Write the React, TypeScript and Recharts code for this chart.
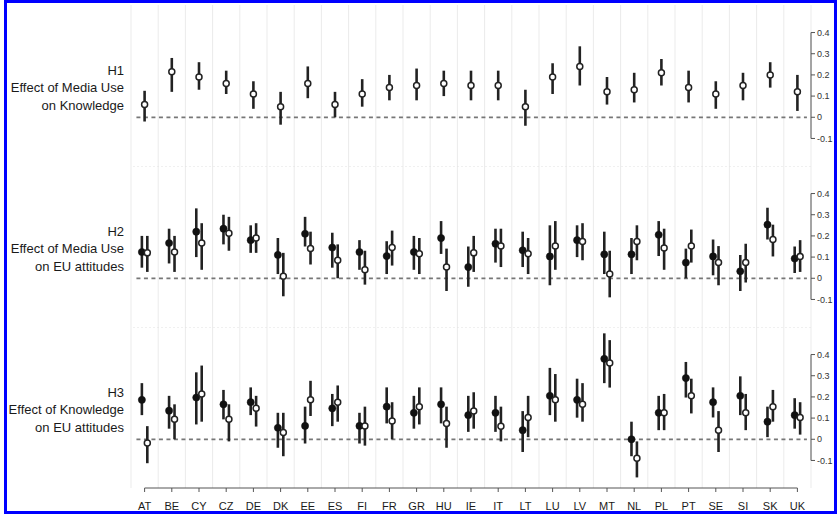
import React from "react";
import { ScatterChart, Scatter, XAxis, YAxis, ErrorBar, ReferenceLine } from "recharts";

const countries = ["AT","BE","CY","CZ","DE","DK","EE","ES","FI","FR","GR","HU","IE","IT","LT","LU","LV","MT","NL","PL","PT","SE","SI","SK","UK"];
const yTicks = [-0.1, 0, 0.1, 0.2, 0.3, 0.4];

// H1: effect of media use on knowledge (hollow markers)
const h1Est = [0.06,0.215,0.19,0.16,0.11,0.05,0.16,0.06,0.11,0.14,0.15,0.16,0.15,0.15,0.05,0.19,0.24,0.12,0.13,0.21,0.14,0.11,0.15,0.2,0.12];
const h1Lo  = [-0.02,0.12,0.13,0.11,0.04,-0.035,0.09,0.0,0.05,0.08,0.08,0.1,0.08,0.08,-0.04,0.11,0.15,0.06,0.07,0.15,0.07,0.04,0.08,0.14,0.03];
const h1Hi  = [0.125,0.28,0.26,0.22,0.17,0.12,0.24,0.12,0.18,0.2,0.23,0.22,0.22,0.22,0.13,0.255,0.335,0.19,0.21,0.275,0.22,0.17,0.21,0.26,0.2];

// H2: effect of media use on EU attitudes
const h2FilledEst = [0.124,0.166,0.22,0.234,0.18,0.11,0.21,0.145,0.124,0.105,0.124,0.19,0.053,0.163,0.132,0.103,0.18,0.113,0.113,0.205,0.074,0.103,0.033,0.253,0.093];
const h2FilledLo  = [0.05,0.07,0.1,0.16,0.12,0.02,0.15,0.05,0.04,0.02,0.04,0.115,-0.04,0.074,0.053,-0.033,0.1,0.02,0.02,0.105,0.0,0.014,-0.06,0.183,0.025];
const h2FilledHi  = [0.2,0.234,0.33,0.3,0.25,0.19,0.29,0.215,0.18,0.175,0.2,0.27,0.15,0.234,0.22,0.25,0.25,0.22,0.19,0.27,0.14,0.183,0.11,0.333,0.15];
const h2HollowEst = [0.12,0.124,0.166,0.213,0.19,0.01,0.14,0.085,0.04,0.145,0.116,0.053,0.12,0.152,0.116,0.152,0.174,0.02,0.174,0.143,0.152,0.074,0.074,0.183,0.103];
const h2HollowLo  = [0.03,0.03,0.04,0.13,0.12,-0.085,0.065,0.0,-0.03,0.06,0.02,-0.06,0.03,0.053,0.02,0.04,0.085,-0.09,0.085,0.04,0.074,-0.033,-0.02,0.103,0.03];
const h2HollowHi  = [0.2,0.2,0.26,0.29,0.26,0.12,0.22,0.16,0.13,0.225,0.19,0.14,0.2,0.234,0.19,0.27,0.26,0.13,0.25,0.234,0.23,0.152,0.163,0.253,0.18];

// H3: effect of knowledge on EU attitudes
const h3FilledEst = [0.186,0.135,0.197,0.165,0.175,0.054,0.063,0.146,0.063,0.154,0.125,0.165,0.114,0.125,0.043,0.205,0.186,0.38,0.0,0.125,0.289,0.175,0.205,0.083,0.114];
const h3FilledLo  = [0.114,0.05,0.07,0.094,0.114,-0.04,-0.02,0.062,-0.02,0.075,0.05,0.075,0.035,0.035,-0.06,0.114,0.102,0.265,-0.08,0.043,0.197,0.103,0.114,0.01,0.05];
const h3FilledHi  = [0.265,0.205,0.316,0.233,0.245,0.125,0.154,0.214,0.125,0.245,0.205,0.245,0.205,0.205,0.133,0.337,0.286,0.5,0.083,0.205,0.365,0.245,0.297,0.154,0.194];
const h3HollowEst = [-0.018,0.094,0.214,0.094,0.146,0.032,0.186,0.175,0.063,0.086,0.154,0.075,0.133,0.062,0.103,0.186,0.165,0.36,-0.089,0.125,0.205,0.043,0.125,0.154,0.103];
const h3HollowLo  = [-0.113,0.0,0.083,-0.01,0.06,-0.08,0.11,0.083,-0.03,0.0,0.07,-0.04,0.05,-0.01,0.01,0.083,0.083,0.244,-0.18,0.043,0.122,-0.06,0.043,0.083,0.022];
const h3HollowHi  = [0.062,0.165,0.348,0.165,0.205,0.125,0.276,0.254,0.154,0.175,0.245,0.154,0.222,0.154,0.205,0.308,0.265,0.468,-0.01,0.214,0.286,0.133,0.214,0.233,0.175];

const PANEL_H = 161;
const AXIS_H = 27;
const Y_DOMAIN: [number, number] = [-0.23, 0.53];
const INK = "#222";
const FONT = "Liberation Sans, Arial, sans-serif";

function rows(est: number[], lo: number[], hi: number[], shift: number) {
  return est.map((v, i) => ({ x: i + shift, y: v, err: [v - lo[i], hi[i] - v] }));
}

const hollowShape = (p: any) => (
  <circle cx={p.cx} cy={p.cy} r={3} fill="#fff" stroke={INK} strokeWidth={1.5} />
);
const filledShape = (p: any) => (
  <circle cx={p.cx} cy={p.cy} r={3.6} fill="#111" stroke="#111" strokeWidth={0.5} />
);

type Series = { data: any[]; filled: boolean };

function Panel(props: { top: number; lines: string[]; series: Series[]; showX: boolean; separator: boolean }) {
  const { top, lines, series, showX, separator } = props;
  const boundaries = countries.map((_, i) => i - 0.5).concat([countries.length - 0.5]);
  return (
    <div style={{ position: "absolute", left: 0, top, width: 837 }}>
      <div
        style={{
          position: "absolute",
          left: 0,
          width: 124,
          top: 56.5,
          textAlign: "right",
          fontFamily: FONT,
          fontSize: 13,
          lineHeight: "17.5px",
          color: "#1a1a1a",
          whiteSpace: "nowrap",
        }}
      >
        {lines.map((l) => (
          <div key={l}>{l}</div>
        ))}
      </div>
      <ScatterChart
        width={837}
        height={showX ? PANEL_H + AXIS_H : PANEL_H}
        margin={{ top: 0, right: 0, bottom: 0, left: 131 }}
      >
        <XAxis
          type="number"
          dataKey="x"
          domain={[-0.5, countries.length - 0.5]}
          ticks={countries.map((_, i) => i)}
          tickFormatter={(v: number) => countries[Math.round(v)]}
          interval={0}
          hide={!showX}
          height={AXIS_H}
          axisLine={false}
          tickSize={4}
          tickMargin={10}
          tickLine={{ stroke: "#555" }}
          tick={{ fontSize: 11, fill: "#1a1a1a", fontFamily: FONT }}
          allowDataOverflow
        />
        <YAxis
          type="number"
          dataKey="y"
          orientation="right"
          domain={Y_DOMAIN}
          ticks={yTicks}
          interval={0}
          width={26}
          axisLine={false}
          tickSize={4}
          tickMargin={2}
          tickLine={{ stroke: "#555" }}
          tick={{ fontSize: 9, fill: "#333", fontFamily: FONT }}
          tickFormatter={(v: number) => String(v)}
          allowDataOverflow
        />
        {boundaries.map((b) => (
          <ReferenceLine key={"g" + b} x={b} stroke="#ebebeb" strokeWidth={1} ifOverflow="visible" />
        ))}
        {separator && (
          <ReferenceLine y={Y_DOMAIN[1]} stroke="#e2e2e2" strokeDasharray="2 2" ifOverflow="visible" />
        )}
        <ReferenceLine
          segment={[{ x: -0.3, y: 0 }, { x: countries.length - 0.65, y: 0 }]}
          stroke="#777"
          strokeWidth={1.8}
          strokeDasharray="4 3.5"
          ifOverflow="visible"
        />
        <ReferenceLine
          segment={[{ x: countries.length - 0.5, y: yTicks[0] }, { x: countries.length - 0.5, y: yTicks[yTicks.length - 1] }]}
          stroke="#555"
          strokeWidth={1}
          ifOverflow="visible"
        />
        {showX && (
          <ReferenceLine
            segment={[{ x: 0, y: Y_DOMAIN[0] }, { x: countries.length - 1, y: Y_DOMAIN[0] }]}
            stroke="#555"
            strokeWidth={1}
            ifOverflow="visible"
          />
        )}
        {series.map((s, k) => (
          <Scatter
            key={k}
            data={s.data}
            shape={s.filled ? filledShape : hollowShape}
            isAnimationActive={false}
          >
            <ErrorBar dataKey="err" direction="y" width={0} stroke={INK} strokeWidth={2.6} />
          </Scatter>
        ))}
      </ScatterChart>
    </div>
  );
}

export default function App() {
  const shift = 0.1;
  return (
    <div style={{ position: "fixed", left: 0, top: 0, width: 837, height: 514, background: "#fff", overflow: "hidden" }}>
      <Panel
        top={5}
        lines={["H1", "Effect of Media Use", "on Knowledge"]}
        series={[{ data: rows(h1Est, h1Lo, h1Hi, 0), filled: false }]}
        showX={false}
        separator={false}
      />
      <Panel
        top={166}
        lines={["H2", "Effect of Media Use", "on EU attitudes"]}
        series={[
          { data: rows(h2FilledEst, h2FilledLo, h2FilledHi, -shift), filled: true },
          { data: rows(h2HollowEst, h2HollowLo, h2HollowHi, shift), filled: false },
        ]}
        showX={false}
        separator={true}
      />
      <Panel
        top={327}
        lines={["H3", "Effect of Knowledge", "on EU attitudes"]}
        series={[
          { data: rows(h3FilledEst, h3FilledLo, h3FilledHi, -shift), filled: true },
          { data: rows(h3HollowEst, h3HollowLo, h3HollowHi, shift), filled: false },
        ]}
        showX={true}
        separator={true}
      />
      <div
        style={{
          position: "absolute",
          left: 4,
          top: 0,
          width: 833,
          height: 514,
          border: "3px solid #0000ff",
          boxSizing: "border-box",
          pointerEvents: "none",
        }}
      />
    </div>
  );
}
